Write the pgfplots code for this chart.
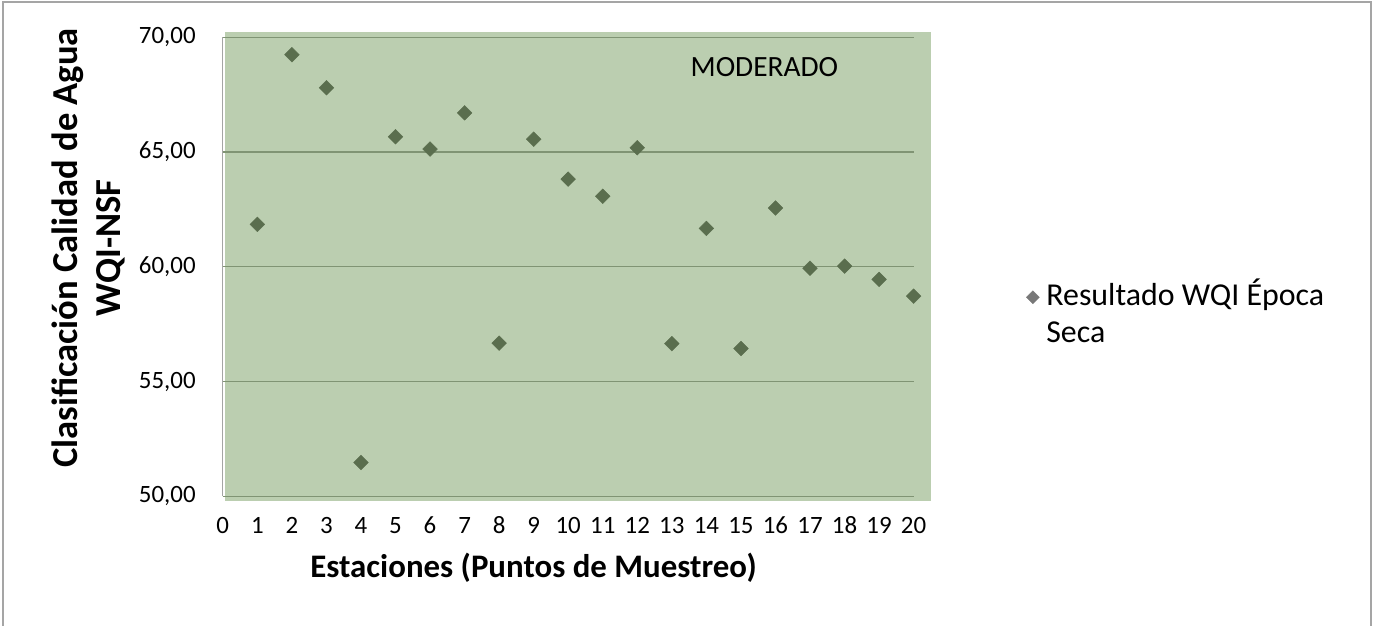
\documentclass[border=0pt]{standalone}
\usepackage{pgfplots}
\pgfplotsset{compat=1.18}
\usepackage{fontspec}
\setmainfont{Carlito}
\definecolor{plotbg}{RGB}{187,206,176}
\definecolor{markgreen}{RGB}{90,110,78}
\definecolor{gridgreen}{RGB}{128,148,116}
\definecolor{framegray}{RGB}{165,165,165}
\definecolor{leggray}{RGB}{120,120,120}

\begin{document}
\begin{tikzpicture}[x=1bp,y=1bp]
\useasboundingbox (0,0) rectangle (1375,-626);
\draw[framegray, line width=1.3bp] (3,-630) -- (3,-2) -- (1371,-2) -- (1371,-630);
% green panel behind the plot
\fill[plotbg] (225,-32) rectangle (931,-501);
\begin{axis}[
  at={(222.8bp,-496.3bp)}, anchor=south west,
  scale only axis, width=690.8bp, height=459bp,
  xmin=0, xmax=20, ymin=50, ymax=70,
  xtick={0,...,20}, ytick={50,55,...,70},
  axis y line=left, axis x line=bottom,
  y axis line style={-, framegray, line width=1.3bp},
  x axis line style={-, gridgreen, line width=1.2bp},
  major tick length=0pt,
  ymajorgrids, grid style={gridgreen, line width=1.2bp},
  /pgf/number format/assume math mode=true,
  yticklabel style={/pgf/number format/.cd, fixed, fixed zerofill, precision=2, use comma, /tikz/.cd,
    inner sep=0pt, anchor=east, xshift=-27bp},
  xticklabel style={inner sep=0pt, anchor=center, yshift=-29bp},
  tick label style={font=\fontsize{25}{30}\selectfont},
  xlabel={Estaciones (Puntos de Muestreo)},
  xlabel style={at={(axis description cs:0.4498,-0.156)}, anchor=center,
    font=\fontsize{33}{40}\selectfont\bfseries},
  ylabel={Clasificación Calidad de Agua\\WQI-NSF},
  ylabel style={at={(axis description cs:-0.1951,0.541)}, anchor=center, rotate=0,
    align=center, font=\fontsize{36.7}{43}\selectfont\bfseries},
  legend style={at={(axis description cs:1.16,0.4744)}, anchor=north west, draw=none, fill=none,
    font=\fontsize{32}{37}\selectfont, inner sep=0pt, row sep=0pt, column sep=7bp,
    nodes={inner sep=0pt, text height=27bp, text depth=10bp}},
  legend cell align=left,
]
\addplot[only marks, mark=square*, mark size=5.2bp, mark options={rotate=45, fill=markgreen, draw=markgreen}, forget plot]
  coordinates {
  (1,61.85) (2,69.24) (3,67.80) (4,51.47) (5,65.67) (6,65.13) (7,66.71)
  (8,56.67) (9,65.56) (10,63.82) (11,63.07) (12,65.19) (13,56.65) (14,61.67)
  (15,56.44) (16,62.56) (17,59.94) (18,60.03) (19,59.45) (20,58.72)
  };
\addlegendimage{only marks, mark=square*, mark size=4.6bp, mark options={rotate=45, fill=leggray, draw=leggray}}
\addlegendentry{Resultado WQI Época}
\addlegendimage{empty legend}
\addlegendentry{Seca}
\node[font=\fontsize{29.5}{35}\selectfont] at (axis cs:15.68,68.7) {MODERADO};
\end{axis}
\end{tikzpicture}
\end{document}
